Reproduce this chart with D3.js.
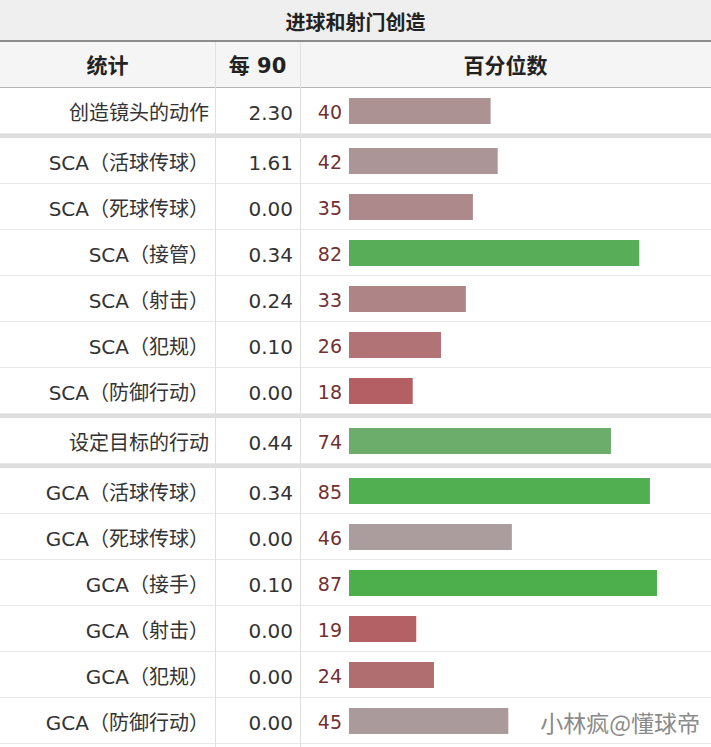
<!DOCTYPE html>
<html>
<head>
    <meta charset="utf-8">
    <script src="https://d3js.org/d3.v7.min.js"></script>
    <style>
        body { margin: 0; background: #fff; }
    </style>
</head>
<body>
<div id="chart"></div>
<script>
    // table data
    var title = "进球和射门创造";
    var headers = ["统计", "每 90", "百分位数"];
    var labels = ["创造镜头的动作",
        "SCA（活球传球）", "SCA（死球传球）", "SCA（接管）", "SCA（射击）", "SCA（犯规）", "SCA（防御行动）",
        "设定目标的行动",
        "GCA（活球传球）", "GCA（死球传球）", "GCA（接手）", "GCA（射击）", "GCA（犯规）", "GCA（防御行动）"];
    var per90 = ["2.30", "1.61", "0.00", "0.34", "0.24", "0.10", "0.00", "0.44", "0.34", "0.00", "0.10", "0.00", "0.00", "0.00"];
    var percentile = [40, 42, 35, 82, 33, 26, 18, 74, 85, 46, 87, 19, 24, 45];
    var groups = [0, 1, 1, 1, 1, 1, 1, 2, 3, 3, 3, 3, 3, 3];
    var watermark = "小林疯@懂球帝";

    var W = 711, H = 747;
    var colX = [0, 215, 300, W];
    var titleH = 40, headH = 46, rowH = 46, sepH = 4;
    var cjk = "'Noto Sans CJK SC', sans-serif";
    var latin = "'DejaVu Sans', 'Noto Sans CJK SC', sans-serif";

    var svg = d3.select("#chart")
        .append("svg")
        .attr("width", W)
        .attr("height", H);

    // row positions, with a thick separator between groups
    var rows = [];
    var yy = titleH + 2 + headH;
    labels.forEach(function (d, i) {
        if (i > 0 && groups[i] != groups[i - 1]) yy += sepH;
        rows.push({ label: d, per90: per90[i], pct: percentile[i], y: yy, first: i > 0 && groups[i] != groups[i - 1] });
        yy += rowH;
    });

    var x = d3.scaleLinear()
        .domain([0, 100])
        .range([349, 703]);

    var color = d3.scaleLinear()
        .domain([15, 35, 50, 70, 90])
        .range(["#b5575c", "#ad898b", "#aaa3a3", "#76ac76", "#44b044"])
        .clamp(true);

    // title bar
    svg.append("rect").attr("x", 0).attr("y", 0).attr("width", W).attr("height", titleH).attr("fill", "#efefef");
    svg.append("rect").attr("x", 0).attr("y", titleH).attr("width", W).attr("height", 2).attr("fill", "#8c8c8c");
    svg.append("text")
        .attr("x", W / 2).attr("y", titleH / 2 + 1)
        .attr("text-anchor", "middle").attr("dominant-baseline", "central")
        .style("font-family", cjk)
        .attr("font-size", 20).attr("font-weight", "bold").attr("fill", "#222")
        .text(title);

    // header row
    var hy = titleH + 2;
    svg.append("rect").attr("x", 0).attr("y", hy).attr("width", W).attr("height", headH).attr("fill", "#f5f5f5");
    svg.append("rect").attr("x", 0).attr("y", hy + headH - 1).attr("width", W).attr("height", 1).attr("fill", "#b4b4b4");
    svg.selectAll(".head")
        .data(headers)
        .enter()
        .append("text")
        .attr("x", function (d, i) { return (colX[i] + colX[i + 1]) / 2; })
        .attr("y", hy + headH / 2 + 1)
        .attr("text-anchor", "middle").attr("dominant-baseline", "central")
        .style("font-family", latin)
        .attr("font-size", 21).attr("font-weight", "bold").attr("fill", "#222")
        .text(function (d) { return d; });

    // group separators
    svg.selectAll(".sep")
        .data(rows.filter(function (d) { return d.first; }))
        .enter()
        .append("rect")
        .attr("x", 0).attr("y", function (d) { return d.y - sepH; })
        .attr("width", W).attr("height", sepH)
        .attr("fill", "#dedede");

    // thin row lines
    svg.selectAll(".line")
        .data(rows)
        .enter()
        .append("line")
        .attr("x1", 0).attr("x2", W)
        .attr("y1", function (d) { return d.y + rowH - 0.5; })
        .attr("y2", function (d) { return d.y + rowH - 0.5; })
        .attr("stroke", "#e8e8e8");

    // column lines
    svg.selectAll(".col")
        .data([colX[1], colX[2]])
        .enter()
        .append("line")
        .attr("x1", function (d) { return d + 0.5; }).attr("x2", function (d) { return d + 0.5; })
        .attr("y1", hy).attr("y2", H)
        .attr("stroke", "#e0e0e0");

    var g = svg.selectAll(".row")
        .data(rows)
        .enter()
        .append("g")
        .attr("transform", function (d) { return "translate(0," + (d.y + rowH / 2) + ")"; });

    g.append("text")
        .attr("x", colX[1] - 6)
        .attr("y", 2)
        .attr("text-anchor", "end").attr("dominant-baseline", "central")
        .style("font-family", latin)
        .attr("font-size", 20).attr("fill", "#333")
        .text(function (d) { return d.label; });

    g.append("text")
        .attr("x", colX[2] - 7)
        .attr("y", 2)
        .attr("text-anchor", "end").attr("dominant-baseline", "central")
        .style("font-family", latin)
        .attr("font-size", 20).attr("fill", "#333")
        .text(function (d) { return d.per90; });

    g.append("text")
        .attr("x", 342)
        .attr("y", 1)
        .attr("text-anchor", "end").attr("dominant-baseline", "central")
        .style("font-family", latin)
        .attr("font-size", 19).attr("fill", "#72302f")
        .text(function (d) { return d.pct; });

    g.append("rect")
        .attr("x", x(0))
        .attr("y", -13)
        .attr("width", function (d) { return x(d.pct) - x(0); })
        .attr("height", 26)
        .attr("fill", function (d) { return color(d.pct); });

    svg.append("text")
        .attr("x", 700).attr("y", 722)
        .attr("text-anchor", "end").attr("dominant-baseline", "central")
        .style("font-family", cjk)
        .attr("font-size", 23).attr("fill", "#8a8a8a")
        .text(watermark);
</script>
</body>
</html>
